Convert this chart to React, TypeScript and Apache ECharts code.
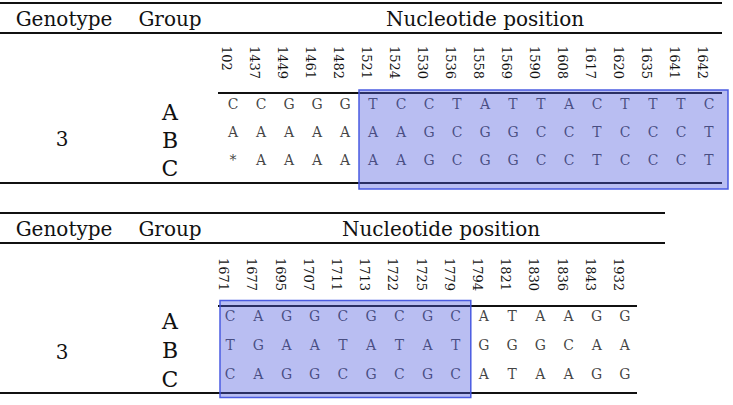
import React, { useEffect, useRef } from 'react';
import * as echarts from 'echarts';

const FONT = '"DejaVu Serif", serif';
const INK = '#111111';

const headers = ['Genotype', 'Group', 'Nucleotide position'];
const genotype = '3';
const groups = ['A', 'B', 'C'];

const positionsTop = ['102', '1437', '1449', '1461', '1482', '1521', '1524', '1530', '1536', '1558', '1569', '1590', '1608', '1617', '1620', '1635', '1641', '1642'];
const groupATop = ['C', 'C', 'G', 'G', 'G', 'T', 'C', 'C', 'T', 'A', 'T', 'T', 'A', 'C', 'T', 'T', 'T', 'C'];
const groupBTop = ['A', 'A', 'A', 'A', 'A', 'A', 'A', 'G', 'C', 'G', 'G', 'C', 'C', 'T', 'C', 'C', 'C', 'T'];
const groupCTop = ['*', 'A', 'A', 'A', 'A', 'A', 'A', 'G', 'C', 'G', 'G', 'C', 'C', 'T', 'C', 'C', 'C', 'T'];
const highlightTop = [5, 17];

const positionsBottom = ['1671', '1677', '1695', '1707', '1711', '1713', '1722', '1725', '1779', '1794', '1821', '1830', '1836', '1843', '1932'];
const groupABottom = ['C', 'A', 'G', 'G', 'C', 'G', 'C', 'G', 'C', 'A', 'T', 'A', 'A', 'G', 'G'];
const groupBBottom = ['T', 'G', 'A', 'A', 'T', 'A', 'T', 'A', 'T', 'G', 'G', 'G', 'C', 'A', 'A'];
const groupCBottom = ['C', 'A', 'G', 'G', 'C', 'G', 'C', 'G', 'C', 'A', 'T', 'A', 'A', 'G', 'G'];
const highlightBottom = [0, 8];

const tables = [
  {
    positions: positionsTop,
    rows: [groupATop, groupBTop, groupCTop],
    highlight: highlightTop,
    grid: { left: 219, top: 90, width: 504, height: 84 },
    oy: 0,
    ruleRight: 722,
    subRuleY: 93,
    bottomRuleY: 183,
    bottomRuleRight: 722,
    titleX: 485,
    labelMargin: 44,
    groupMargin: 49,
    groupShift: 8,
    boxPad: [0, 5, 14, 29],
  },
  {
    positions: positionsBottom,
    rows: [groupABottom, groupBBottom, groupCBottom],
    highlight: highlightBottom,
    grid: { left: 216, top: 301, width: 423, height: 87 },
    oy: 210,
    ruleRight: 665,
    subRuleY: 306,
    bottomRuleY: 393,
    bottomRuleRight: 637,
    titleX: 441,
    labelMargin: 43,
    groupMargin: 46,
    groupShift: 6,
    boxPad: [-4, 1, 15, 24],
  },
];

export default function App() {
  const ref = useRef<HTMLDivElement>(null);

  useEffect(() => {
    document.body.style.margin = '0';
    if (!ref.current) return;
    const chart = echarts.init(ref.current, null, { renderer: 'svg' });

    const grids = tables.map((t) => ({ ...t.grid, containLabel: false }));
    const xAxes = tables.map((t, i) => ({
      type: 'category',
      gridIndex: i,
      position: 'top',
      data: t.positions,
      axisLine: { show: false },
      axisTick: { show: false },
      splitLine: { show: false },
      axisLabel: {
        interval: 0,
        hideOverlap: false,
        rotate: 90,
        align: 'left',
        verticalAlign: 'top',
        margin: t.labelMargin,
        fontSize: 13,
        fontFamily: FONT,
        color: INK,
      },
    }));
    const yAxes = tables.map((t, i) => ({
      type: 'category',
      gridIndex: i,
      inverse: true,
      data: groups,
      axisLine: { show: false },
      axisTick: { show: false },
      splitLine: { show: false },
      axisLabel: {
        interval: 0,
        hideOverlap: false,
        align: 'center',
        verticalAlign: 'top',
        lineHeight: t.groupShift * 2,
        margin: t.groupMargin,
        fontSize: 22,
        fontFamily: FONT,
        color: INK,
      },
    }));
    const series = tables.map((t, i) => {
      const data: any[] = [];
      t.rows.forEach((row, r) => row.forEach((b, c) => data.push([c, r, b])));
      return {
        type: 'scatter',
        xAxisIndex: i,
        yAxisIndex: i,
        symbol: 'circle',
        symbolSize: 1,
        itemStyle: { color: 'rgba(0,0,0,0)' },
        label: {
          show: true,
          position: 'inside',
          formatter: (p: any) => p.value[2],
          fontSize: 14,
          fontFamily: FONT,
          color: INK,
        },
        emphasis: { disabled: true },
        data,
      };
    });

    chart.setOption({
      animation: false,
      grid: grids,
      xAxis: xAxes,
      yAxis: yAxes,
      series,
    });

    const graphic: any[] = [];
    const txt = (text: string, x: number, y: number, size: number) => ({
      type: 'text',
      x,
      y,
      z: 10,
      style: {
        text,
        fontSize: size,
        fontFamily: FONT,
        fill: INK,
        align: 'center',
        verticalAlign: 'middle',
        textAlign: 'center',
        textVerticalAlign: 'middle',
      },
    });
    const line = (x1: number, y1: number, x2: number, y2: number) => ({
      type: 'line',
      z: 10,
      shape: { x1, y1, x2, y2 },
      style: { stroke: INK, lineWidth: 2 },
    });

    tables.forEach((t, i) => {
      const oy = t.oy;
      graphic.push(line(0, 3 + oy, t.ruleRight, 3 + oy));
      graphic.push(line(0, 33 + oy, t.ruleRight, 33 + oy));
      graphic.push(line(218, t.subRuleY, t.bottomRuleRight, t.subRuleY));
      graphic.push(line(0, t.bottomRuleY, t.bottomRuleRight, t.bottomRuleY));
      graphic.push(txt(headers[0], 64, 19 + oy, 20));
      graphic.push(txt(headers[1], 170, 19 + oy, 20));
      graphic.push(txt(headers[2], t.titleX, 19 + oy, 20));
      const mid = chart.convertToPixel({ gridIndex: i } as any, [0, 1]) as number[];
      graphic.push(txt(genotype, 62, mid[1] + 7, 20));

      const p0 = chart.convertToPixel({ gridIndex: i } as any, [t.highlight[0], 0]) as number[];
      const p1 = chart.convertToPixel({ gridIndex: i } as any, [t.highlight[1], 2]) as number[];
      const colW = t.grid.width / t.positions.length;
      const [padL, padR, padT, padB] = t.boxPad;
      const x0 = p0[0] - colW / 2 - padL;
      const x1 = p1[0] + colW / 2 + padR;
      const y0 = p0[1] - padT;
      const y1 = p1[1] + padB;
      graphic.push({
        type: 'rect',
        z: 100,
        shape: { x: x0, y: y0, width: x1 - x0, height: y1 - y0 },
        style: { fill: 'rgba(80,92,222,0.40)', stroke: 'rgba(66,84,224,0.95)', lineWidth: 1.5 },
      });
    });

    chart.setOption({ graphic });

    return () => chart.dispose();
  }, []);

  return <div ref={ref} style={{ width: 733, height: 405 }} />;
}
